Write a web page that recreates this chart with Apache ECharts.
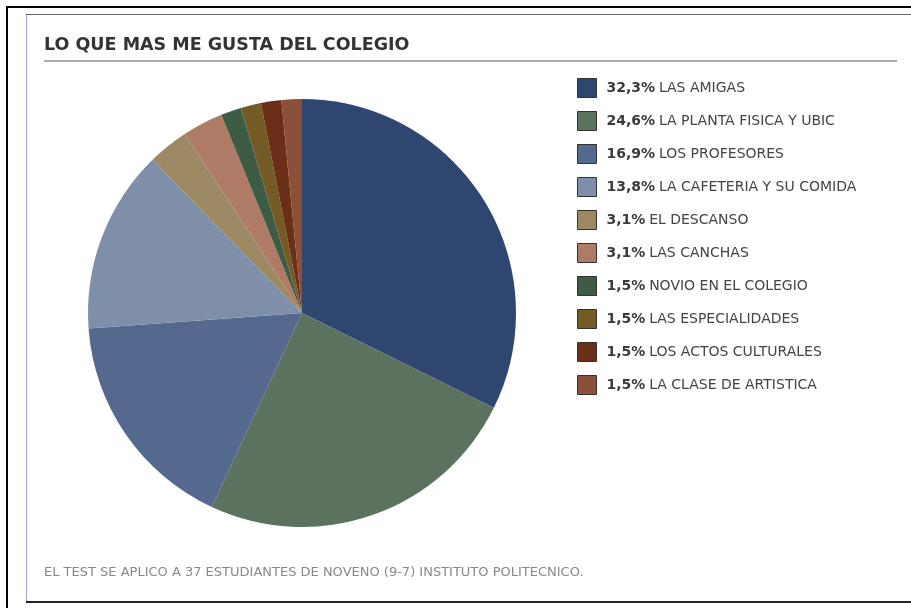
<!DOCTYPE html>
<html>
<head>
<meta charset="utf-8">
<script src="https://cdn.jsdelivr.net/npm/echarts@6/dist/echarts.min.js"></script>
<style>
html,body{margin:0;padding:0;background:#fff;}
#main{width:911px;height:608px;}
</style>
</head>
<body>
<div id="main"></div>
<script>
// datos del test
var categorias=['LAS AMIGAS','LA PLANTA FISICA Y UBIC','LOS PROFESORES','LA CAFETERIA Y SU COMIDA','EL DESCANSO','LAS CANCHAS','NOVIO EN EL COLEGIO','LAS ESPECIALIDADES','LOS ACTOS CULTURALES','LA CLASE DE ARTISTICA'];
var votos=[21,16,11,9,2,2,1,1,1,1];
var porcentajes=['32,3%','24,6%','16,9%','13,8%','3,1%','3,1%','1,5%','1,5%','1,5%','1,5%'];
var colores=['#2e4670','#5a725e','#55698f','#7f8fa9','#9c8862','#b07b66','#3e5c45','#745a24','#6b2f18','#8c4f3a'];

var chart=echarts.init(document.getElementById('main'));
var dataArr=[];
for(var i=0;i<categorias.length;i++){
	dataArr.push({name:categorias[i],value:votos[i],itemStyle:{color:colores[i]}});
}
var fuente='DejaVu Sans';
chart.setOption({
	animation:false,
	title:{
		text:'LO QUE MAS ME GUSTA DEL COLEGIO',
		left:44,
		top:36,
		padding:0,
		textStyle:{color:'#333',fontSize:17.5,fontWeight:'bold',fontFamily:fuente}
	},
	legend:{
		orient:'vertical',
		left:577,
		top:78,
		padding:0,
		itemWidth:19,
		itemHeight:19,
		itemGap:13,
		icon:'rect',
		selectedMode:false,
		itemStyle:{borderColor:'#333',borderWidth:1},
		data:categorias,
		formatter:function(name){
			var idx=categorias.indexOf(name);
			return '{p|'+porcentajes[idx]+'} {n|'+name+'}';
		},
		textStyle:{
			fontFamily:fuente,
			padding:[0,0,0,5],
			rich:{
				p:{fontWeight:'bold',color:'#3a3a3a',fontSize:14,lineHeight:18,fontFamily:fuente},
				n:{color:'#444',fontSize:14,lineHeight:18,fontFamily:fuente}
			}
		}
	},
	graphic:[
		{type:'rect',shape:{x:7,y:7,width:920,height:620},style:{fill:'none',stroke:'#000',lineWidth:2},silent:true,z:-1},
		{type:'rect',shape:{x:26.5,y:14.5,width:900,height:587},style:{fill:'#fff',stroke:'#9aa4cc',lineWidth:1},silent:true,z:-1},
		{type:'line',shape:{x1:26,y1:14.5,x2:911,y2:14.5},style:{stroke:'#666',lineWidth:1},silent:true},
		{type:'line',shape:{x1:26,y1:602,x2:911,y2:602},style:{stroke:'#222',lineWidth:2},silent:true},
		{type:'line',shape:{x1:44,y1:61,x2:897,y2:61},style:{stroke:'#aaa',lineWidth:2},silent:true},
		{type:'text',left:44,top:566,style:{text:'EL TEST SE APLICO A 37 ESTUDIANTES DE NOVENO (9-7) INSTITUTO POLITECNICO.',fill:'#888',fontSize:13,fontFamily:fuente}}
	],
	series:[{
		name:'LO QUE MAS ME GUSTA',
		type:'pie',
		center:[302,313],
		radius:214,
		startAngle:90,
		clockwise:true,
		label:{show:false},
		labelLine:{show:false},
		itemStyle:{borderWidth:0},
		emphasis:{disabled:true},
		data:dataArr
	}]
});
</script>
</body>
</html>
